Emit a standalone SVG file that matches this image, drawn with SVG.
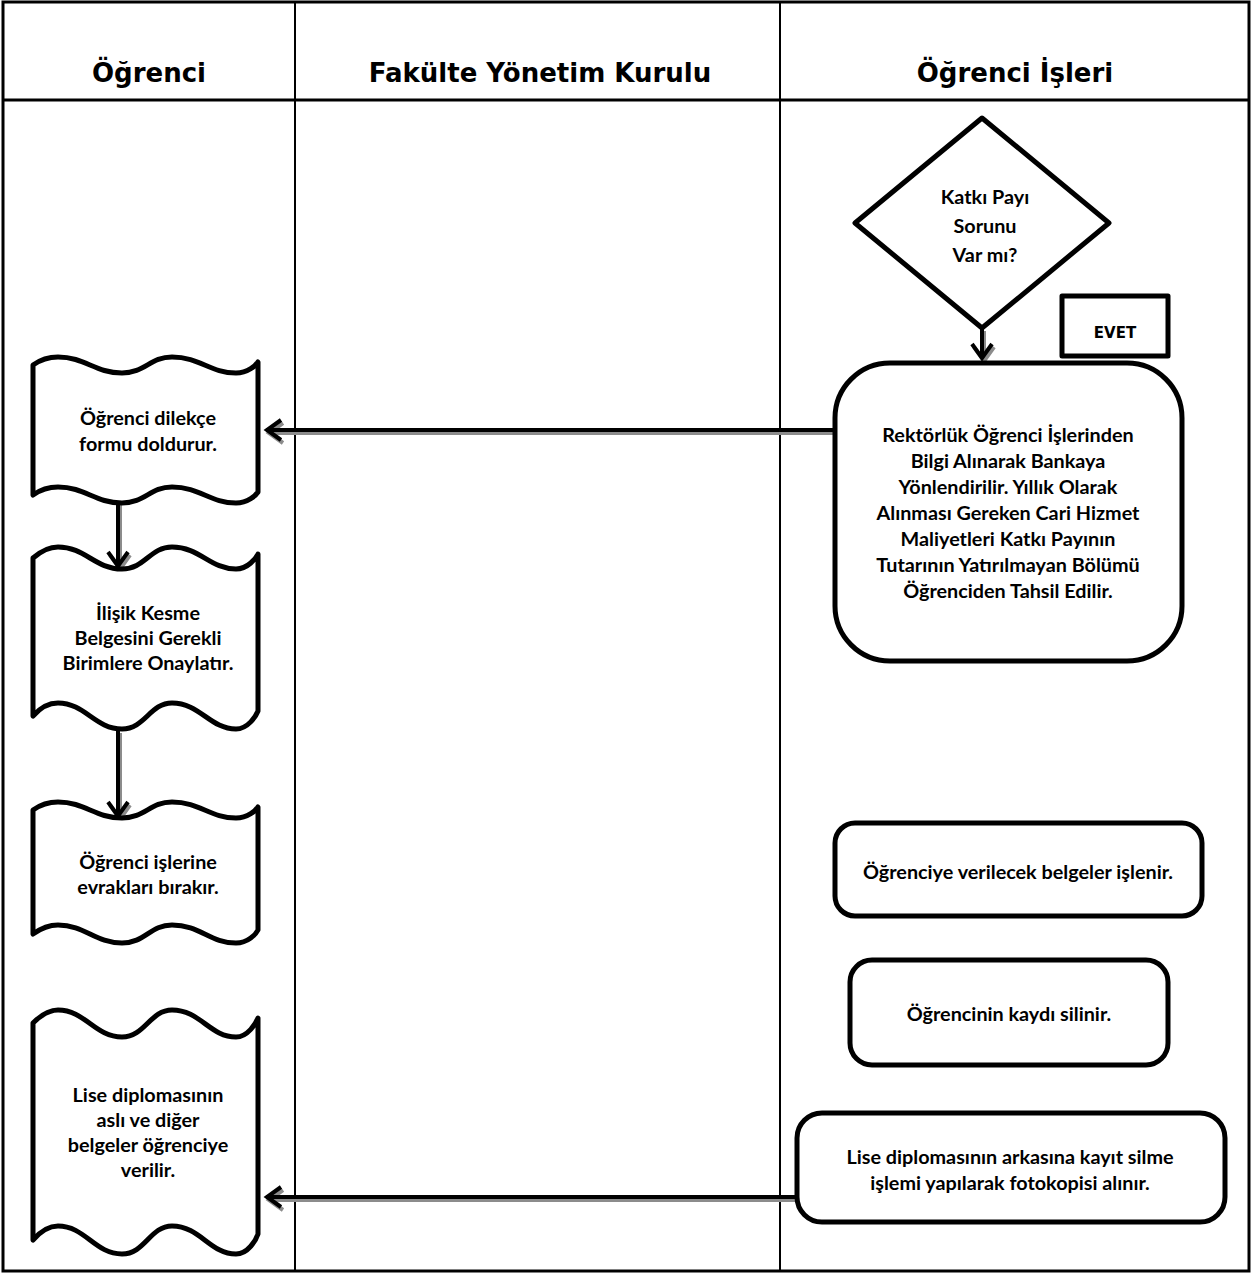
<svg xmlns="http://www.w3.org/2000/svg" width="1253" height="1277" viewBox="0 0 1253 1277">
<style>
.frame{fill:none;stroke:#000;stroke-width:3}
.col{stroke:#000;stroke-width:2}
.hdr{font-family:"DejaVu Sans",Verdana,sans-serif;font-weight:bold;font-size:26px;text-anchor:middle;fill:#000}
.shape{fill:#fff;stroke:#000;stroke-width:5;stroke-linejoin:round}
.t{font-family:Lato,"Liberation Sans",sans-serif;font-weight:bold;font-size:19.8px;text-anchor:middle;fill:#000}
.td{font-family:Lato,"Liberation Sans",sans-serif;font-weight:bold;font-size:19.8px;text-anchor:middle;fill:#000}
.evet{font-family:"DejaVu Sans",Verdana,sans-serif;font-weight:bold;font-size:15px;text-anchor:middle;fill:#000}
.ln{fill:none;stroke:#000;stroke-width:4}
.sh{fill:none;stroke:#8c8c8c;stroke-width:4}
</style>
<rect width="1253" height="1277" fill="#fff"/>
<g id="table">
<rect class="frame" x="3" y="2" width="1246" height="1269"/>
<line class="frame" x1="3" y1="100" x2="1249" y2="100"/>
<line class="col" x1="295" y1="2" x2="295" y2="1271"/>
<line class="col" x1="780" y1="2" x2="780" y2="1271"/>
<text class="hdr" x="149" y="82">Öğrenci</text>
<text class="hdr" x="540" y="82">Fakülte Yönetim Kurulu</text>
<text class="hdr" x="1015" y="82">Öğrenci İşleri</text>
</g>
<g id="connectors">
<g transform="translate(2,3)">
<path class="sh" d="M850,430 H267 M281,420 L267,430 L281,440"/>
<path class="sh" d="M118,502 V566 M108,552 L118,566 L128,552"/>
<path class="sh" d="M118,730 V816 M108,802 L118,816 L128,802"/>
<path class="sh" d="M982,328 V358 M972,344 L982,358 L992,344"/>
<path class="sh" d="M797,1197 H267 M281,1187 L267,1197 L281,1207"/>
</g>
<path class="ln" d="M850,430 H267 M281,420 L267,430 L281,440"/>
<path class="ln" d="M118,502 V566 M108,552 L118,566 L128,552"/>
<path class="ln" d="M118,730 V816 M108,802 L118,816 L128,802"/>
<path class="ln" d="M982,328 V358 M972,344 L982,358 L992,344"/>
<path class="ln" d="M797,1197 H267 M281,1187 L267,1197 L281,1207"/>
</g>
<g id="doc1">
<path class="shape" d="M33,365 C40,360 48,357 58,357 C85,357 95,373 122,373 C145,373 150,357 172,357 C200,357 210,373 236,373 C248,373 256,365 258,362 L258,492 C256,495 248,503 236,503 C210,503 200,487 172,487 C150,487 145,503 122,503 C95,503 85,487 58,487 C48,487 40,490 33,495 Z"/>
<text class="td" x="148" y="425">Öğrenci dilekçe</text>
<text class="td" x="148" y="451">formu doldurur.</text>
</g>
<g id="doc2">
<path class="shape" d="M33,558 C40,552 48,547 58,547 C85,547 95,569 122,569 C145,569 150,547 172,547 C200,547 210,569 236,569 C248,569 256,558 258,554 L258,711 C256,716 248,729 236,729 C210,729 200,703 172,703 C150,703 145,729 122,729 C95,729 85,703 58,703 C48,703 40,708 33,716 Z"/>
<text class="td" x="148" y="620">İlişik Kesme</text>
<text class="td" x="148" y="645">Belgesini Gerekli</text>
<text class="td" x="148" y="670">Birimlere Onaylatır.</text>
</g>
<g id="doc3">
<path class="shape" d="M33,810 C40,805 48,802 58,802 C85,802 95,818 122,818 C145,818 150,802 172,802 C200,802 210,818 236,818 C248,818 256,810 258,807 L258,930 C256,934 248,943 236,943 C210,943 200,925 172,925 C150,925 145,943 122,943 C95,943 85,925 58,925 C48,925 40,929 33,934 Z"/>
<text class="td" x="148" y="869">Öğrenci işlerine</text>
<text class="td" x="148" y="894">evrakları bırakır.</text>
</g>
<g id="doc4">
<path class="shape" d="M33,1023 C40,1016 48,1010 58,1010 C85,1010 95,1037 122,1037 C145,1037 150,1010 172,1010 C200,1010 210,1037 236,1037 C248,1037 256,1023 258,1018 L258,1234 C256,1240 248,1254 236,1254 C210,1254 200,1226 172,1226 C150,1226 145,1254 122,1254 C95,1254 85,1226 58,1226 C48,1226 40,1232 33,1240 Z"/>
<text class="td" x="148" y="1102">Lise diplomasının</text>
<text class="td" x="148" y="1127">aslı ve diğer</text>
<text class="td" x="148" y="1152">belgeler öğrenciye</text>
<text class="td" x="148" y="1177">verilir.</text>
</g>
<g id="decision">
<path class="shape" d="M982,118 L1109,223 L982,328 L855,223 Z"/>
<text class="t" x="985" y="204">Katkı Payı</text>
<text class="t" x="985" y="233">Sorunu</text>
<text class="t" x="985" y="262">Var mı?</text>
</g>
<g id="evet">
<rect class="shape" x="1062" y="296" width="106" height="60"/>
<text class="evet" x="1115" y="338">EVET</text>
</g>
<g id="process1">
<rect class="shape" x="835" y="363" width="347" height="298" rx="55"/>
<text class="t" x="1008" y="442">Rektörlük Öğrenci İşlerinden</text>
<text class="t" x="1008" y="468">Bilgi Alınarak Bankaya</text>
<text class="t" x="1008" y="494">Yönlendirilir. Yıllık Olarak</text>
<text class="t" x="1008" y="520">Alınması Gereken Cari Hizmet</text>
<text class="t" x="1008" y="546">Maliyetleri Katkı Payının</text>
<text class="t" x="1008" y="572">Tutarının Yatırılmayan Bölümü</text>
<text class="t" x="1008" y="598">Öğrenciden Tahsil  Edilir.</text>
</g>
<g id="process2">
<rect class="shape" x="835" y="823" width="367" height="93" rx="20"/>
<text class="t" x="1018" y="879">Öğrenciye verilecek belgeler işlenir.</text>
</g>
<g id="process3">
<rect class="shape" x="850" y="960" width="318" height="105" rx="22"/>
<text class="t" x="1009" y="1021">Öğrencinin kaydı silinir.</text>
</g>
<g id="process4">
<rect class="shape" x="797" y="1113" width="428" height="109" rx="25"/>
<text class="t" x="1010" y="1164">Lise diplomasının arkasına kayıt silme</text>
<text class="t" x="1010" y="1190">işlemi yapılarak fotokopisi alınır.</text>
</g>
</svg>
